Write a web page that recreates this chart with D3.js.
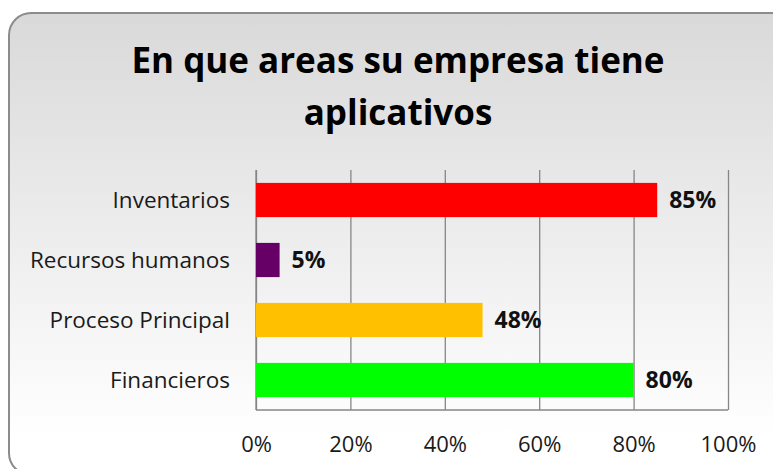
<!DOCTYPE html>
<html>
<head>
<meta charset="utf-8">
<script src="https://cdn.jsdelivr.net/npm/d3@7"></script>
<style>
  body { margin: 0; background: #fff; }
  svg { display: block; }
  text { font-family: "Open Sans", sans-serif; }
</style>
</head>
<body>
<svg id="chart" width="773" height="469"></svg>
<script>
// data
const categories = ["Inventarios", "Recursos humanos", "Proceso Principal", "Financieros"];
const values = [0.85, 0.05, 0.48, 0.80];
const colors = ["#ff0000", "#660066", "#ffc000", "#00ff00"];
const xTicks = [0, 0.2, 0.4, 0.6, 0.8, 1.0];
const titleLines = ["En que areas su empresa tiene", "aplicativos"];

const width = 773, height = 469;
const margin = {top: 170, right: 45, bottom: 59, left: 256};
const innerW = width - margin.left - margin.right;
const innerH = height - margin.top - margin.bottom;

const svg = d3.select("#chart");

// background panel with gradient
const defs = svg.append("defs");
const grad = defs.append("linearGradient")
    .attr("id", "bg")
    .attr("x1", 0).attr("y1", 0)
    .attr("x2", 0).attr("y2", 1);
grad.append("stop").attr("offset", "0%").attr("stop-color", "#d9d9d9");
grad.append("stop").attr("offset", "92%").attr("stop-color", "#ffffff");

svg.append("rect")
    .attr("x", 9).attr("y", 13)
    .attr("width", 790).attr("height", 462)
    .attr("rx", 22).attr("ry", 22)
    .attr("fill", "url(#bg)")
    .attr("stroke", "#8c8c8c")
    .attr("stroke-width", 2);

// title
const title = svg.append("g");
titleLines.forEach((t, i) => {
    title.append("text")
        .attr("x", 398)
        .attr("y", 73 + i * 52)
        .attr("text-anchor", "middle")
        .attr("font-weight", "bold")
        .attr("font-size", 35)
        .attr("fill", "#000")
        .text(t);
});

const g = svg.append("g")
    .attr("transform", `translate(${margin.left},${margin.top})`);

const x = d3.scaleLinear()
    .domain([0, 1])
    .range([0, innerW]);

const y = d3.scaleBand()
    .domain(categories)
    .range([0, innerH])
    .paddingInner(0.43)
    .paddingOuter(0.215);

// gridlines
g.append("g")
    .attr("class", "grid")
    .attr("transform", `translate(0,${innerH})`)
    .call(d3.axisBottom(x).tickValues(xTicks).tickSize(-innerH).tickFormat(""))
    .call(s => s.select(".domain").remove())
    .call(s => s.selectAll("line").attr("stroke", "#868686").attr("stroke-width", 1.3));

// axis lines
g.append("line")
    .attr("x1", 0).attr("x2", innerW)
    .attr("y1", innerH).attr("y2", innerH)
    .attr("stroke", "#868686").attr("stroke-width", 1.3);
g.append("line")
    .attr("x1", 0).attr("x2", 0)
    .attr("y1", 0).attr("y2", innerH)
    .attr("stroke", "#868686").attr("stroke-width", 1.3);

// bars
g.selectAll(".bar")
    .data(categories)
    .join("rect")
    .attr("class", "bar")
    .attr("x", 0)
    .attr("y", d => y(d))
    .attr("width", (d, i) => x(values[i]))
    .attr("height", y.bandwidth())
    .attr("fill", (d, i) => colors[i]);

// value labels
g.selectAll(".val")
    .data(categories)
    .join("text")
    .attr("class", "val")
    .attr("x", (d, i) => x(values[i]) + 12)
    .attr("y", d => y(d) + y.bandwidth() / 2)
    .attr("dy", "0.35em")
    .attr("font-weight", "bold")
    .attr("font-size", 23)
    .attr("fill", "#111")
    .text((d, i) => Math.round(values[i] * 100) + "%");

// category labels
g.selectAll(".cat")
    .data(categories)
    .join("text")
    .attr("class", "cat")
    .attr("x", -26)
    .attr("y", d => y(d) + y.bandwidth() / 2)
    .attr("dy", "0.35em")
    .attr("text-anchor", "end")
    .attr("font-size", 22.5)
    .attr("fill", "#1a1a1a")
    .text(d => d);

// x tick labels
g.append("g")
    .attr("transform", `translate(0,${innerH})`)
    .call(d3.axisBottom(x).tickValues(xTicks).tickSize(0).tickPadding(26).tickFormat(d3.format(".0%")))
    .call(s => s.select(".domain").remove())
    .call(s => s.selectAll("text")
        .attr("font-size", 22)
        .attr("font-family", "Open Sans, sans-serif")
        .attr("fill", "#1a1a1a"));
</script>
</body>
</html>
